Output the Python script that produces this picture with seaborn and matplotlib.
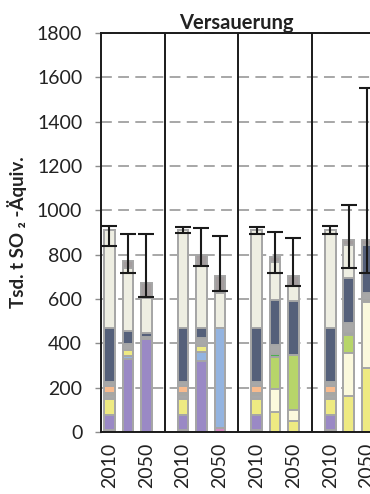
import numpy as np
import pandas as pd
import matplotlib
matplotlib.use("Agg")
import matplotlib.pyplot as plt
import seaborn as sns

# bar positions: 4 scenario groups with 3 bars each (2010, middle year, 2050)
positions = [0, 1, 2, 4, 5, 6, 8, 9, 10, 12, 13, 14]
tick_pos = [0, 2, 4, 6, 8, 10, 12, 14]
tick_labels = ["2010", "2050"] * 4
separators = [3, 7, 11]

# stacked segments, bottom to top (Tsd. t SO2-Aequiv.)
pink         = [9, 0, 0, 9, 0, 18, 9, 0, 0, 9, 0, 0]
purple       = [69, 330, 418, 69, 320, 0, 69, 0, 0, 69, 0, 0]
light_blue   = [0, 15, 0, 0, 43, 450, 0, 0, 0, 0, 0, 0]
yellow       = [70, 27, 0, 70, 27, 0, 70, 88, 50, 70, 162, 288]
cream        = [0, 0, 0, 0, 0, 0, 0, 107, 48, 0, 195, 300]
lime         = [0, 0, 0, 0, 0, 0, 0, 145, 250, 0, 80, 0]
green        = [0, 0, 0, 0, 0, 0, 0, 10, 0, 0, 10, 0]
grey_low     = [20, 0, 0, 20, 0, 0, 20, 0, 0, 20, 0, 0]
bright_yel   = [10, 0, 0, 10, 0, 0, 10, 0, 0, 10, 0, 9]
orange       = [30, 0, 0, 30, 0, 0, 30, 0, 0, 30, 0, 0]
grey_mid     = [17, 23, 10, 17, 35, 0, 17, 42, 0, 17, 43, 28]
slate        = [245, 60, 17, 245, 45, 0, 245, 205, 242, 245, 205, 219]
beige        = [441, 283, 160, 441, 278, 160, 441, 171, 67, 441, 149, 0]
top_grey     = [0, 32, 66, 0, 50, 76, 0, 23, 47, 0, 22, 22]

# uncertainty range per bar
err_low  = [840, 716, 608, 896, 750, 637, 893, 716, 659, 893, 741, 716]
err_high = [929, 893, 893, 926, 919, 884, 926, 901, 874, 931, 1024, 1550]

segments = [pink, purple, light_blue, yellow, cream, lime, green, grey_low,
            bright_yel, orange, grey_mid, slate, beige, top_grey]
colors = ["#d68bc3", "#9a89c5", "#94b4e0", "#eeea82", "#fbf9dd", "#b7d56a",
          "#4caf50", "#a8a8a8", "#f3e200", "#f8bb8e", "#a8a8a8", "#55607a",
          "#eeeee2", "#a39d9e"]

sns.set_style("white")
plt.rcParams["font.family"] = ["Lato", "DejaVu Sans"]

tops = np.cumsum(np.array(segments), axis=0)
rows = []
for i, c in enumerate(colors):
    for p, t in zip(positions, tops[i]):
        rows.append({"seg": i, "pos": p, "top": t})
df = pd.DataFrame(rows)

fig = plt.figure(figsize=(3.7, 4.94), dpi=100)
ax = fig.add_axes([0.273, 0.1255, 0.7316, 0.8077])
ax.set_axisbelow(True)
ax.yaxis.grid(True, color="#a0a0a0", linestyle=(0, (6, 3.5)), linewidth=1.3)

# draw cumulative totals from the top down so lower segments cover upper ones
for i in reversed(range(len(colors))):
    sns.barplot(data=df[df["seg"] == i], x="pos", y="top", native_scale=True,
                color=colors[i], saturation=1, errorbar=None, width=0.58,
                edgecolor="#a6a6a6", linewidth=1.4, ax=ax)

lo = np.array(err_low)
hi = np.array(err_high)
ax.errorbar(positions, lo, yerr=[np.zeros_like(lo), hi - lo], fmt="none",
            ecolor="#1a1a1a", elinewidth=1.5, capsize=5.5, capthick=1.5, zorder=5)

for s in separators:
    ax.axvline(s, color="#1a1a1a", linewidth=1.4, zorder=1)

ax.set_xlim(-0.46, 14.25)
ax.set_ylim(0, 1800)
ax.set_yticks(range(0, 1801, 200))
ax.set_xticks(tick_pos)
ax.set_xticklabels(tick_labels, rotation=90)
ax.tick_params(axis="y", labelsize=14, length=4, width=1, color="#8c8c8c",
               labelcolor="#222222", pad=9.5, left=True)
ax.tick_params(axis="x", labelsize=14, length=0, labelcolor="#222222", pad=8)
ax.set_xlabel("")
ax.set_ylabel("Tsd. t SO ₂ -Äquiv.", fontsize=13.5, fontweight="bold",
              color="#222222", labelpad=7)
ax.set_title("Versauerung", fontsize=14.5, fontweight="bold", color="#222222", pad=3)

for side in ["left", "top", "bottom"]:
    ax.spines[side].set_visible(True)
    ax.spines[side].set_color("#1a1a1a")
    ax.spines[side].set_linewidth(1.4)
ax.spines["right"].set_visible(False)

fig.savefig("out.png", dpi=100)
